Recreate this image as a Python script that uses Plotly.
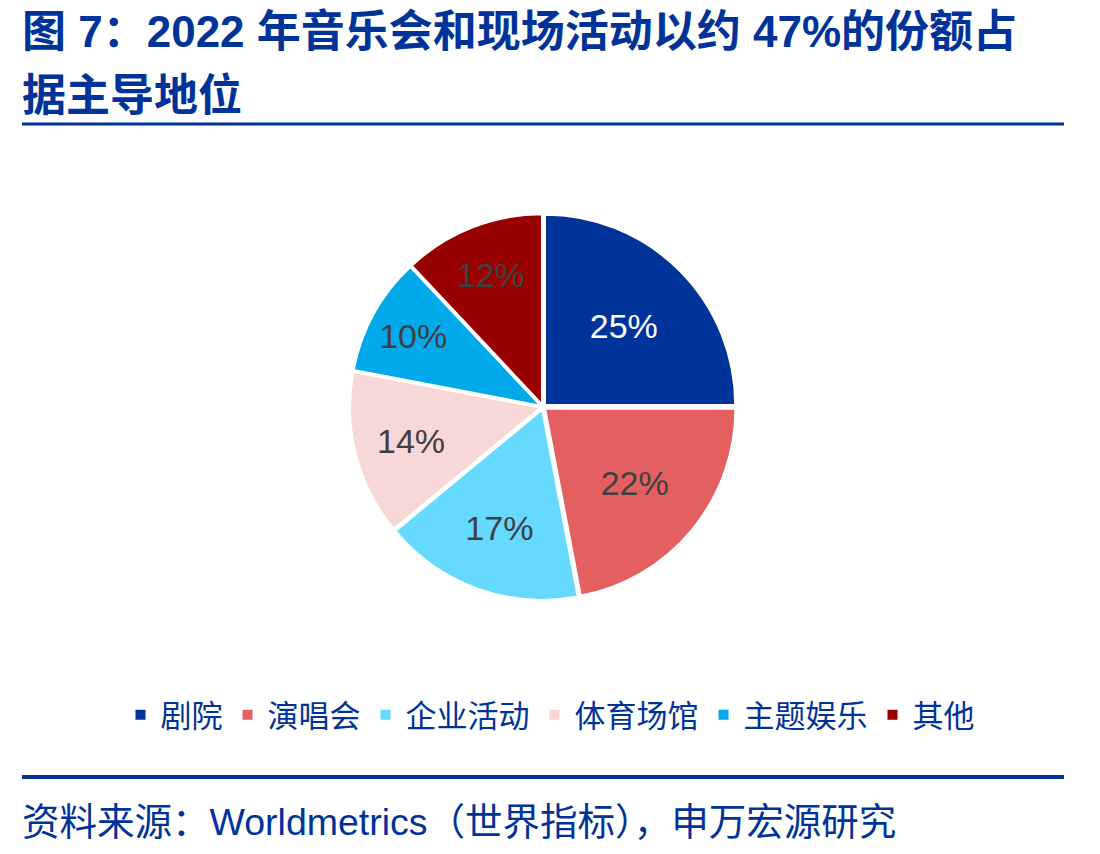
import plotly.graph_objects as go

categories = ["剧院", "演唱会", "企业活动", "体育场馆", "主题娱乐", "其他"]
shares = [25, 22, 17, 14, 10, 12]
colors = ["#003399", "#E46060", "#66D9FF", "#F8D7D7", "#00AAEA", "#990000"]
label_colors = ["#FFFFFF", "#404040", "#404040", "#404040", "#404040", "#404040"]

title_line1 = "图 7：2022 年音乐会和现场活动以约 47%的份额占"
title_line2 = "据主导地位"
source_text = "资料来源：Worldmetrics（世界指标），申万宏源研究"

W, H = 1100, 854
BLUE = "#003399"
FONT = "Liberation Sans, Noto Sans CJK SC, sans-serif"

cx, cy, r = 543, 407, 193

fig = go.Figure()
fig.add_trace(go.Pie(
    labels=categories,
    values=shares,
    sort=False,
    direction="clockwise",
    rotation=0,
    marker=dict(colors=colors, line=dict(color="white", width=2)),
    pull=[0.015] * len(shares),
    texttemplate="%{value}%",
    textposition="inside",
    insidetextorientation="horizontal",
    textfont=dict(family=FONT, size=34, color=label_colors),
    hoverinfo="label+value",
    domain=dict(x=[(cx - r) / W, (cx + r) / W], y=[1 - (cy + r) / H, 1 - (cy - r) / H]),
))

fig.update_layout(
    width=W, height=H,
    margin=dict(l=0, r=0, t=0, b=0),
    paper_bgcolor="white",
    plot_bgcolor="white",
    showlegend=True,
    legend=dict(
        orientation="h",
        x=0.5, xanchor="center",
        y=1 - 715 / H, yanchor="middle",
        font=dict(family="Noto Sans CJK SC, sans-serif", size=31, color=BLUE),
        traceorder="normal",
    ),
    annotations=[
        dict(text="<b>" + title_line1 + "</b>", x=20 / W, y=1 - 31 / H,
             xref="paper", yref="paper", xanchor="left", yanchor="middle", showarrow=False,
             font=dict(family=FONT, size=44, color=BLUE)),
        dict(text="<b>" + title_line2 + "</b>", x=20 / W, y=1 - 95 / H,
             xref="paper", yref="paper", xanchor="left", yanchor="middle", showarrow=False,
             font=dict(family=FONT, size=44, color=BLUE)),
        dict(text=source_text, x=20 / W, y=1 - 822 / H,
             xref="paper", yref="paper", xanchor="left", yanchor="middle", showarrow=False,
             font=dict(family=FONT, size=37.5, color=BLUE)),
    ],
    shapes=[
        dict(type="line", xref="paper", yref="paper", x0=22 / W, x1=1064 / W,
             y0=1 - 124 / H, y1=1 - 124 / H, line=dict(color=BLUE, width=3)),
        dict(type="line", xref="paper", yref="paper", x0=22 / W, x1=1064 / W,
             y0=1 - 777 / H, y1=1 - 777 / H, line=dict(color=BLUE, width=4)),
    ],
)

fig.write_html("out.html")
